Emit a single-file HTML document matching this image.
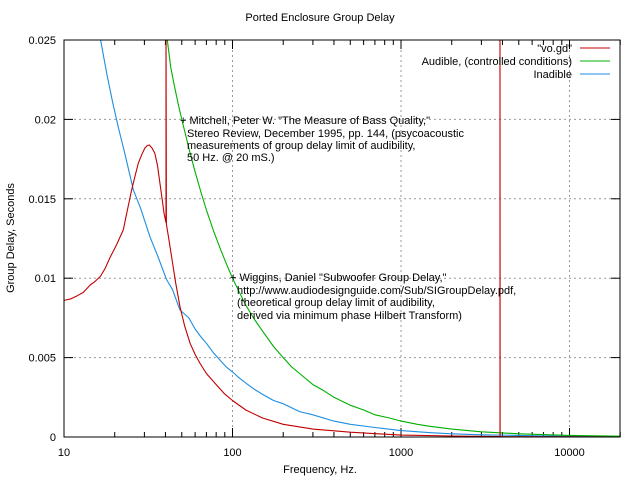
<!DOCTYPE html>
<html><head><meta charset="utf-8"><style>
body{margin:0;background:#fff;}
svg text{font-family:"Liberation Sans",sans-serif;font-size:11px;fill:#000;}
</style></head><body>
<svg id="c" width="640" height="480" xmlns="http://www.w3.org/2000/svg">
<defs><clipPath id="pc"><rect x="64" y="40" width="556" height="397"/></clipPath></defs>
<rect width="640" height="480" fill="#fff"/>
<text x="320" y="21" text-anchor="middle">Ported Enclosure Group Delay</text>
<text x="320" y="473" text-anchor="middle">Frequency, Hz.</text>
<text transform="translate(14,238) rotate(-90)" text-anchor="middle">Group Delay, Seconds</text>
<g id="grid"></g><g id="axes"></g>
<g id="series" clip-path="url(#pc)"></g>
<rect x="64" y="40" width="556" height="397" fill="none" stroke="#000"/>
<g>
<text x="572" y="52" text-anchor="end">"vo.gd"</text>
<line x1="580" y1="48" x2="610" y2="48" stroke="#c00000"/>
<text x="572" y="65" text-anchor="end">Audible, (controlled conditions)</text>
<line x1="580" y1="61" x2="610" y2="61" stroke="#00b000"/>
<text x="572" y="78" text-anchor="end">Inadible</text>
<line x1="580" y1="74" x2="610" y2="74" stroke="#1e8ee0"/>
</g>
<g>
<text x="180" y="124">+ Mitchell, Peter W. "The Measure of Bass Quality,"</text>
<text x="187" y="137">Stereo Review, December 1995, pp. 144,  (psycoacoustic</text>
<text x="187" y="149">measurements of group delay limit of audibility,</text>
<text x="187" y="161">50 Hz. @ 20 mS.)</text>
</g>
<g>
<text x="230" y="281">+ Wiggins, Daniel "Subwoofer Group Delay,"</text>
<text x="237" y="294">http://www.audiodesignguide.com/Sub/SIGroupDelay.pdf,</text>
<text x="237" y="306">(theoretical group delay limit of audibility,</text>
<text x="237" y="319">derived via minimum phase Hilbert Transform)</text>
</g>
</svg>
<script>
const xTicks=[10,100,1000,10000];
const xTickLabels=["10","100","1000","10000"];
const yTicks=[0,0.005,0.01,0.015,0.02,0.025];
const yTickLabels=["0","0.005","0.01","0.015","0.02","0.025"];
const vogdFreq=[10,11,12,13,14.3,15.3,16.4,17.5,18.7,20.5,22.5,24,25.2,26.5,27.6,29,30.2,31.2,32.1,33.3,34.6,35.9,37.1,38.2,39.2,40.3,40.3,40.5,42,43.5,46,48.8,52,56,60,64,70,80,90,100,120,150,200,300,500,1000,2000,3870,3870,3875,5000,10000,20000];
const vogdDelay=[0.0086,0.0087,0.0089,0.0091,0.00957,0.0098,0.0101,0.0106,0.01127,0.0121,0.01304,0.0145,0.01555,0.0165,0.01724,0.0178,0.0182,0.01835,0.01839,0.0182,0.01787,0.0171,0.016,0.0150,0.0141,0.0135,0.026,0.0134,0.0124,0.01135,0.0097,0.0082,0.0070,0.0059,0.0052,0.00466,0.0040,0.0033,0.0027,0.0023,0.0017,0.0012,0.0008,0.0005,0.0003,0.00012,0.00006,0.00003,0.026,0.00002,0.00002,0.00001,0.0];
const audFreq=[38,41,43,45,48,50,55,60,65,70,77,85,92,100,110,120,135,150,175,200,225,250,300,350,400,500,600,700,850,1000,1250,1500,2000,3000,5000,10000,20000];
const audDelay=[0.0263,0.025,0.0233,0.0222,0.0208,0.02,0.0182,0.0167,0.0154,0.0143,0.0130,0.0118,0.0109,0.01,0.0091,0.0083,0.0074,0.0067,0.0057,0.005,0.0044,0.004,0.0033,0.0029,0.0025,0.002,0.0017,0.0014,0.0012,0.001,0.0008,0.00067,0.0005,0.00033,0.0002,0.0001,0.00005];
const inaFreq=[15,16.5,18,19.5,21,23,25.8,28.5,32.4,36,40.7,44,48.8,55,60,65,70,77,85,92,100,110,120,135,150,175,200,250,300,400,500,700,1000,1500,2000,3000,5000,10000,20000];
const inaDelay=[0.0273,0.025,0.0228,0.021,0.0195,0.0178,0.01555,0.0144,0.0126,0.0114,0.00989,0.0093,0.0080,0.0075,0.0068,0.0063,0.0059,0.0053,0.0048,0.0044,0.0041,0.0037,0.0034,0.0030,0.0027,0.0023,0.0021,0.0016,0.0014,0.0010,0.0008,0.0006,0.0004,0.00027,0.0002,0.00014,0.0001,0.00004,0.00002];
const X0=64,X1=620,Y0=437,Y1=40,DEC=168.5;
const xs=f=>X0+DEC*Math.log10(f/10);
const ys=v=>Y0-(v/0.025)*(Y0-Y1);
const NS="http://www.w3.org/2000/svg";
function mk(t,a,p){const e=document.createElementNS(NS,t);for(const k in a)e.setAttribute(k,a[k]);p.appendChild(e);return e;}
const grid=document.getElementById('grid'),axes=document.getElementById('axes'),ser=document.getElementById('series');
xTicks.forEach((f,i)=>{const x=xs(f);
 if(i>0){const g=mk('line',{x1:x,x2:x,y1:Y1,y2:Y0,stroke:'#999','stroke-dasharray':'2,3'},grid);
 
 }
 const t=mk('text',{x:x,y:Y0+19,'text-anchor':'middle'},axes);t.textContent=xTickLabels[i];
 
 
 for(let m=1;m<10;m++){const fx=f*m;if(fx>20000)break;const xx=xs(fx);const L=m==1?9:5;
  mk('line',{x1:xx,x2:xx,y1:Y0,y2:Y0-L,stroke:'#000'},axes);mk('line',{x1:xx,x2:xx,y1:Y1,y2:Y1+L,stroke:'#000'},axes);}
});
yTicks.forEach((v,i)=>{const y=ys(v);
 if(i>0&&i<yTicks.length-1){const g=mk('line',{x1:X0,x2:X1,y1:y,y2:y,stroke:'#999','stroke-dasharray':'2,3'},grid);
 
 }
 mk('line',{x1:X0,x2:X0+9,y1:y,y2:y,stroke:'#000'},axes);mk('line',{x1:X1,x2:X1-9,y1:y,y2:y,stroke:'#000'},axes);
 const t=mk('text',{x:56,y:y+4,'text-anchor':'end'},axes);t.textContent=yTickLabels[i];
 
 
});
function line(F,V,c,name){const p=mk('polyline',{points:F.map((f,i)=>xs(f).toFixed(1)+','+ys(V[i]).toFixed(1)).join(' '),fill:'none',stroke:c,'stroke-width':1.1,'stroke-linejoin':'round'},ser);
 
 }
line(inaFreq,inaDelay,'#1e8ee0','inaudible-line');
line(audFreq,audDelay,'#00b000','audible-line');
line(vogdFreq,vogdDelay,'#c00000','vogd-line');
</script>
</body></html>
